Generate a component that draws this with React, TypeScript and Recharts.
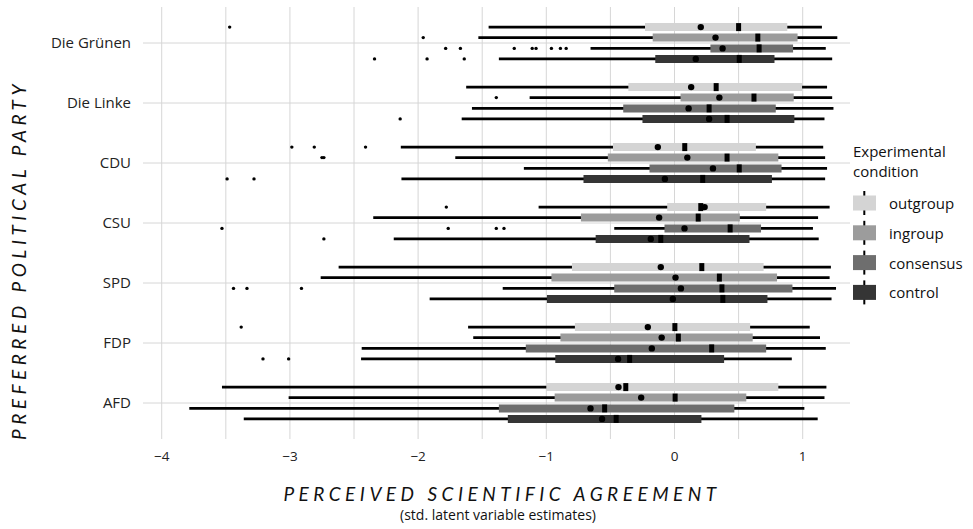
import React from "react";
import { ScatterChart, Scatter, XAxis, YAxis, CartesianGrid, ErrorBar } from "recharts";

// parties from bottom to top of the chart
const parties = ["AFD", "FDP", "SPD", "CSU", "CDU", "Die Linke", "Die Grünen"];
const conditions = ["outgroup", "ingroup", "consensus", "control"];
const conditionColors = ["#d4d4d4", "#9c9c9c", "#6e6e6e", "#353535"];
const rowOffsets = [0.265, 0.09, -0.09, -0.265];
const xTicks = [-4, -3.5, -3, -2.5, -2, -1.5, -1, -0.5, 0, 0.5, 1];
const yTicks = [0, 1, 2, 3, 4, 5, 6];

// [lower whisker, q1, median, q3, upper whisker, mean], parties AFD -> Die Grünen
const outgroupStats = [
  [-3.53, -1.0, -0.38, 0.81, 1.185, -0.437],
  [-1.61, -0.777, 0.003, 0.59, 1.055, -0.208],
  [-2.62, -0.8, 0.213, 0.695, 1.22, -0.107],
  [-1.06, -0.057, 0.205, 0.715, 1.21, 0.235],
  [-2.135, -0.48, 0.08, 0.635, 1.16, -0.13],
  [-1.625, -0.36, 0.325, 0.995, 1.19, 0.13],
  [-1.45, -0.23, 0.5, 0.88, 1.15, 0.205],
];
const ingroupStats = [
  [-3.01, -0.935, 0.005, 0.56, 1.17, -0.26],
  [-1.57, -0.89, 0.03, 0.61, 1.135, -0.1],
  [-2.76, -0.96, 0.35, 0.8, 1.21, 0.008],
  [-2.35, -0.73, 0.185, 0.51, 1.12, -0.12],
  [-1.71, -0.52, 0.41, 0.81, 1.175, 0.1],
  [-1.13, 0.047, 0.62, 0.93, 1.23, 0.35],
  [-1.53, -0.17, 0.65, 0.96, 1.27, 0.32],
];
const consensusStats = [
  [-3.785, -1.37, -0.545, 0.467, 1.013, -0.655],
  [-2.44, -1.16, 0.29, 0.715, 1.18, -0.177],
  [-1.34, -0.47, 0.37, 0.92, 1.26, 0.05],
  [-0.47, -0.078, 0.434, 0.675, 1.08, 0.078],
  [-1.175, -0.195, 0.505, 0.835, 1.19, 0.3],
  [-1.58, -0.4, 0.27, 0.79, 1.24, 0.11],
  [-0.655, 0.28, 0.66, 0.925, 1.18, 0.375],
];
const controlStats = [
  [-3.36, -1.3, -0.455, 0.21, 1.117, -0.565],
  [-2.445, -0.93, -0.35, 0.387, 0.915, -0.44],
  [-1.91, -0.995, 0.377, 0.725, 1.225, -0.013],
  [-2.19, -0.615, -0.107, 0.585, 1.125, -0.185],
  [-2.13, -0.71, 0.22, 0.76, 1.175, -0.075],
  [-1.66, -0.25, 0.41, 0.935, 1.17, 0.27],
  [-1.37, -0.15, 0.505, 0.78, 1.23, 0.166],
];

// outliers: [party, value]
const outgroupOutliers: [string, number][] = [
  ["Die Grünen", -3.47], ["CDU", -2.985], ["CDU", -2.81], ["CDU", -2.41],
  ["CSU", -1.78], ["FDP", -3.38],
];
const ingroupOutliers: [string, number][] = [
  ["Die Grünen", -1.96], ["Die Linke", -1.39], ["CDU", -2.75], ["CDU", -2.735],
];
const consensusOutliers: [string, number][] = [
  ["Die Grünen", -1.785], ["Die Grünen", -1.67], ["Die Grünen", -1.25], ["Die Grünen", -1.11],
  ["Die Grünen", -1.08], ["Die Grünen", -0.96], ["Die Grünen", -0.89], ["Die Grünen", -0.845],
  ["CSU", -3.53], ["CSU", -1.765], ["CSU", -1.39], ["CSU", -1.33],
  ["SPD", -3.44], ["SPD", -3.335], ["SPD", -2.91],
];
const controlOutliers: [string, number][] = [
  ["Die Grünen", -2.34], ["Die Grünen", -1.93], ["Die Grünen", -1.64], ["Die Linke", -2.14],
  ["CDU", -3.49], ["CDU", -3.28], ["CSU", -2.735], ["FDP", -3.21], ["FDP", -3.01],
];

const allStats = [outgroupStats, ingroupStats, consensusStats, controlStats];
const allOutliers = [outgroupOutliers, ingroupOutliers, consensusOutliers, controlOutliers];

const FONT = "'Open Sans', sans-serif";
const TITLE_FONT = "Lato, 'Open Sans', sans-serif";

const boxData = allStats.map((stats, c) =>
  stats.map(([lo, q1, med, q3, hi, mean], p) => ({
    y: p + rowOffsets[c],
    x: med,
    mean,
    whisker: [med - lo, hi - med],
    box: [med - q1, q3 - med],
  }))
);
const meanData = boxData.map((rows) => rows.map((r) => ({ x: r.mean, y: r.y })));
const outlierData = allOutliers.map((list, c) =>
  list.map(([party, v]) => ({ x: v, y: parties.indexOf(party) + rowOffsets[c] }))
);

const fmtX = (v: number) => (Number.isInteger(v) ? (v < 0 ? "\u2212" + Math.abs(v) : String(v)) : "");

const Empty = () => <g />;
const MedianMark = (props: any) => (
  <rect x={props.cx - 2.5} y={props.cy - 4} width={5} height={8} fill="#000" />
);
const MeanMark = (props: any) => <circle cx={props.cx} cy={props.cy} r={3.2} fill="#000" />;
const OutlierMark = (props: any) => <circle cx={props.cx} cy={props.cy} r={1.7} fill="#000" />;

export default function App() {
  return (
    <div style={{ position: "absolute", left: 0, top: 0, width: 973, height: 529, background: "#fff", fontFamily: FONT }}>
      <ScatterChart width={973} height={529} margin={{ top: 7, right: 123, bottom: 60, left: 8 }}>
        <CartesianGrid stroke="#d6d6d6" strokeWidth={1} syncWithTicks />
        <XAxis
          type="number"
          dataKey="x"
          domain={[-4.146, 1.369]}
          allowDataOverflow
          ticks={xTicks}
          interval={0}
          tickFormatter={fmtX}
          tickLine={false}
          axisLine={false}
          tickSize={0}
          tickMargin={12}
          height={30}
          tick={{ fontSize: 13.5, fill: "#222", fontFamily: FONT }}
        />
        <YAxis
          type="number"
          dataKey="y"
          domain={[-0.6, 6.6]}
          allowDataOverflow
          ticks={yTicks}
          interval={0}
          tickFormatter={(i: number) => parties[i]}
          tickLine={false}
          axisLine={false}
          tickSize={0}
          tickMargin={12}
          width={135}
          tick={{ fontSize: 15, fill: "#222", fontFamily: FONT }}
        />
        {boxData.map((rows, c) => (
          <Scatter key={"box-" + c} data={rows} shape={Empty} isAnimationActive={false}>
            <ErrorBar dataKey="whisker" direction="x" width={0} stroke="#000" strokeWidth={2.6} isAnimationActive={false} />
            <ErrorBar dataKey="box" direction="x" width={0} stroke={conditionColors[c]} strokeWidth={8} isAnimationActive={false} />
          </Scatter>
        ))}
        {boxData.map((rows, c) => (
          <Scatter key={"med-" + c} data={rows} shape={MedianMark} isAnimationActive={false} />
        ))}
        {meanData.map((rows, c) => (
          <Scatter key={"mean-" + c} data={rows} shape={MeanMark} isAnimationActive={false} />
        ))}
        {outlierData.map((rows, c) => (
          <Scatter key={"out-" + c} data={rows} shape={OutlierMark} isAnimationActive={false} />
        ))}
      </ScatterChart>
      <svg width={973} height={529} style={{ position: "absolute", left: 0, top: 0, pointerEvents: "none" }}>
        <text x={502} y={501} textAnchor="middle" fontSize={19} fontStyle="italic" letterSpacing={4.5} fill="#111" fontFamily={TITLE_FONT}>
          PERCEIVED SCIENTIFIC AGREEMENT
        </text>
        <text x={498} y={520} textAnchor="middle" fontSize={14} fill="#111" fontFamily={FONT}>
          (std. latent variable estimates)
        </text>
        <text
          x={0}
          y={0}
          transform="translate(18,260) rotate(-90)"
          textAnchor="middle"
          dominantBaseline="central"
          fontSize={19}
          fontStyle="italic"
          letterSpacing={4.5}
          fill="#111"
          fontFamily={TITLE_FONT}
        >
          PREFERRED POLITICAL PARTY
        </text>
        <text x={853} y={157} fontSize={15} fill="#111" fontFamily={FONT}>Experimental</text>
        <text x={853} y={177} fontSize={15} fill="#111" fontFamily={FONT}>condition</text>
        {conditions.map((name, i) => {
          const cy = 203 + i * 29.8;
          return (
            <g key={name}>
              <line x1={864.3} x2={864.3} y1={cy - 12} y2={cy + 12} stroke="#000" strokeWidth={2} />
              <rect x={853} y={cy - 7.5} width={23} height={15} fill={conditionColors[i]} />
              <text x={889} y={cy} dominantBaseline="central" fontSize={15} fill="#111" fontFamily={FONT}>
                {name}
              </text>
            </g>
          );
        })}
      </svg>
    </div>
  );
}
